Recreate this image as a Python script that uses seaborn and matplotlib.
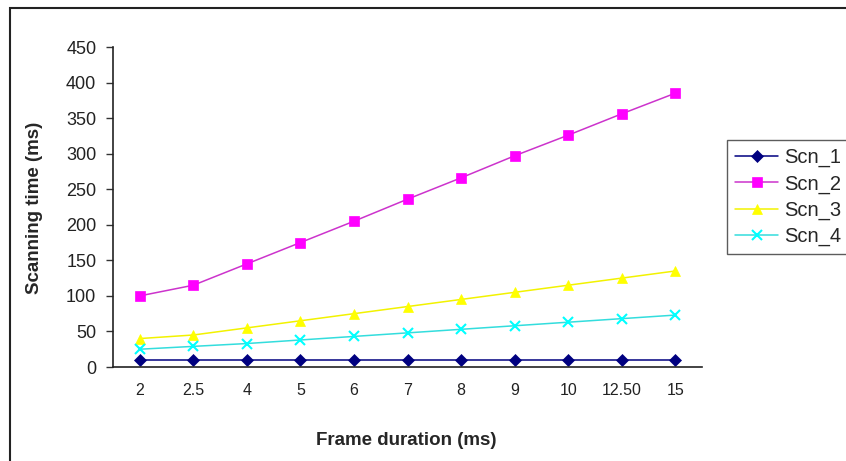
#!/usr/bin/env python3
# coding=utf-8
import pandas as pd
import seaborn as sns
from matplotlib import pyplot as plt
from matplotlib.patches import Rectangle

# frame durations (categorical x axis, labels as printed)
frame_labels = ["2", "2.5", "4", "5", "6", "7", "8", "9", "10", "12.50", "15"]

# scanning times per scenario (ms)
scn_1 = [10, 10, 10, 10, 10, 10, 10, 10, 10, 10, 10]
scn_2 = [100, 115, 145, 175, 205, 236, 266, 297, 326, 356, 385]
scn_3 = [40, 45, 55, 65, 75, 85, 95, 105, 115, 125, 135]
scn_4 = [25, 29, 33, 38, 43, 48, 53, 58, 63, 68, 73]

series_names = ["Scn_1", "Scn_2", "Scn_3", "Scn_4"]
colors = ["#000080", "#FF00FF", "#FFFF00", "#00FFFF"]
line_colors = ["#000080", "#CC33CC", "#F2F200", "#33DDDD"]
markers = ["D", "s", "^", "x"]
marker_sizes = [6, 7, 7, 7]

sns.set_style("white")
plt.rcParams["font.family"] = ["Liberation Sans", "DejaVu Sans"]

# long-form table for seaborn
rows = []
for name, values in zip(series_names, [scn_1, scn_2, scn_3, scn_4]):
    for lab, v in zip(frame_labels, values):
        rows.append({"frame": lab, "time": v, "scenario": name})
df = pd.DataFrame(rows)

fig = plt.figure(figsize=(8.46, 4.61), dpi=100)
ax = fig.add_axes([113 / 846, 1 - 367 / 461, (702 - 113) / 846, 320 / 461])

for name, col, lcol, mk, ms in zip(series_names, colors, line_colors,
                                   markers, marker_sizes):
    sub = df[df["scenario"] == name]
    sns.lineplot(data=sub, x="frame", y="time", ax=ax, sort=False,
                 color=lcol, marker=mk, markersize=ms, linewidth=1.1,
                 markerfacecolor=col, markeredgecolor=col,
                 markeredgewidth=1.5 if mk == "x" else 0.5,
                 label=name, legend=False)

ax.set_xlim(-0.5, len(frame_labels) - 0.5)
ax.set_ylim(0, 450)
ax.set_yticks(range(0, 451, 50))
ax.set_xticks(range(len(frame_labels)))
ax.set_xticklabels(frame_labels)
ax.tick_params(axis="y", left=True, length=5, width=1, direction="out",
               labelsize=13, pad=7, color="#333333", labelcolor="#222222")
ax.tick_params(axis="x", bottom=False, labelsize=11.5, pad=8,
               labelcolor="#222222")

for side in ["top", "right"]:
    ax.spines[side].set_visible(False)
for side in ["left", "bottom"]:
    ax.spines[side].set_color("#222222")
    ax.spines[side].set_linewidth(1.2)

ax.set_xlabel("")
ax.set_ylabel("")
fig.text(406 / 846, 1 - 440 / 461, "Frame duration (ms)", ha="center",
         va="center", fontsize=13.5, fontweight="bold")
fig.text(35 / 846, 1 - 208 / 461, "Scanning time (ms)", ha="center",
         va="center", rotation=90, fontsize=13.5, fontweight="bold")

handles, labels = ax.get_legend_handles_labels()
leg = fig.legend(handles, labels, loc="upper left",
                 bbox_to_anchor=(727 / 846, 1 - 140 / 461),
                 borderaxespad=0.0,
                 fontsize=14.5, frameon=True, fancybox=False,
                 edgecolor="#333333", handlelength=2.15,
                 borderpad=0.4, labelspacing=0.35, handletextpad=0.3)
leg.get_frame().set_linewidth(1.0)

# outer chart border (top and left edges visible)
fig.patches.append(Rectangle((10 / 846, -0.1), 1.2, 1 - 8 / 461 + 0.1,
                             transform=fig.transFigure, fill=False,
                             edgecolor="#222222", linewidth=1.5))

fig.savefig("out.png", dpi=100)
